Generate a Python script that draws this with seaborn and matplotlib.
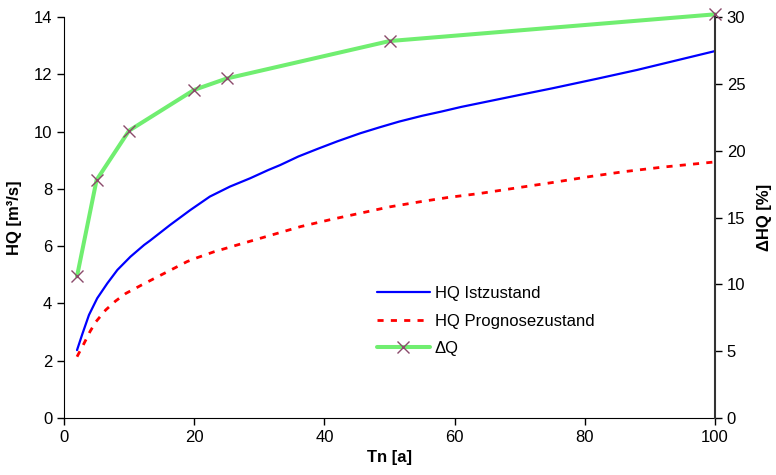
import matplotlib
matplotlib.use("Agg")
import matplotlib.pyplot as plt
import seaborn as sns
import numpy as np
import pandas as pd

# Data
tn_ist = [2, 2.8, 3.84, 5.1, 6.65, 8.2, 10.2, 12.3, 13.2, 16.3, 19.4, 22.4, 25.5, 28.6, 31.4, 33.2, 36,
          39, 42, 45.5, 48.5, 51.5, 55, 58, 61, 64, 70, 75, 82, 88, 94, 100]
hq_ist = [2.37, 2.92, 3.6, 4.18, 4.7, 5.17, 5.63, 6.04, 6.19, 6.74, 7.26, 7.73, 8.08, 8.37, 8.66, 8.83,
          9.13, 9.4, 9.66, 9.94, 10.15, 10.35, 10.55, 10.7, 10.86, 11.0, 11.28, 11.51, 11.85,
          12.15, 12.48, 12.81]
tn_prog = [2, 3.07, 4, 4.9, 6.4, 7.9, 9.5, 11.9, 13.6, 15.4, 18.9, 20.5, 23, 27.5, 31, 36.3, 41, 45.5,
           50, 54.7, 59, 63.9, 70, 75, 80.8, 86, 92, 100]
hq_prog = [2.14, 2.6, 3.02, 3.36, 3.77, 4.08, 4.35, 4.64, 4.84, 5.05, 5.46, 5.6, 5.8, 6.1, 6.33,
           6.68, 6.93, 7.15, 7.37, 7.55, 7.7, 7.84, 8.05, 8.22, 8.43, 8.6, 8.76, 8.94]
tn_d = [2, 5, 10, 20, 25, 50, 100]
dq = [10.6, 17.8, 21.5, 24.55, 25.4, 28.2, 30.2]

x_ticks = [0, 20, 40, 60, 80, 100]
y_ticks = [0, 2, 4, 6, 8, 10, 12, 14]
y2_ticks = [0, 5, 10, 15, 20, 25, 30]

sns.set_style("ticks")
plt.rcParams['font.family'] = ['Liberation Sans', 'DejaVu Sans']
plt.rcParams['text.color'] = 'black'
plt.rcParams['axes.labelcolor'] = 'black'

fig = plt.figure(figsize=(7.76, 4.75), dpi=100)
ax = fig.add_axes([64/776, 1-418/475, (715-64)/776, (418-17)/475])
ax2 = ax.twinx()

sns.lineplot(x=tn_ist, y=hq_ist, ax=ax, color='#0000FF', linewidth=1.6, label='HQ Istzustand', legend=False)
sns.lineplot(x=tn_prog, y=hq_prog, ax=ax, color='#FF0000', linewidth=2.0, linestyle=(0, (2.2, 2.6)),
             label='HQ Prognosezustand', legend=False)
sns.lineplot(x=tn_d, y=dq, ax=ax2, color='#70EE70', linewidth=2.9, marker='x', markersize=9,
             markeredgecolor='#8B4A6B', markeredgewidth=1.0, label='ΔQ', legend=False, clip_on=False)

ax.set_xlim(0, 100)
ax.set_ylim(0, 14)
ax2.set_ylim(0, 30)
ax.set_xticks(x_ticks)
ax.set_yticks(y_ticks)
ax2.set_yticks(y2_ticks)

for a in (ax, ax2):
    a.spines['top'].set_visible(False)
    a.tick_params(direction='out', length=5, width=1, color='black', labelsize=12, labelcolor='black')
ax.spines['left'].set_color('black')
ax.spines['bottom'].set_color('black')
ax2.spines['right'].set_color('#333333')
ax2.spines['right'].set_linewidth(1.5)
ax2.spines['left'].set_visible(False)
ax2.spines['bottom'].set_visible(False)
ax.spines['right'].set_visible(False)

ax.set_xlabel('Tn [a]', fontsize=12, fontweight='bold', labelpad=4, color='black')
ax.set_ylabel('HQ [m³/s]', fontsize=12, fontweight='bold', labelpad=8, color='black')
ax2.set_ylabel('ΔHQ [%]', fontsize=12, fontweight='bold', labelpad=8, color='black')

h1, l1 = ax.get_legend_handles_labels()
h2, l2 = ax2.get_legend_handles_labels()
leg = ax2.legend(h1 + h2, l1 + l2, loc='upper left', bbox_to_anchor=(0.47, 0.345), frameon=False,
                 fontsize=12, handlelength=3.2, handletextpad=0.3, labelspacing=0.75, borderaxespad=0)
for t in leg.get_texts():
    t.set_color('black')

fig.savefig('out.png', dpi=100)
